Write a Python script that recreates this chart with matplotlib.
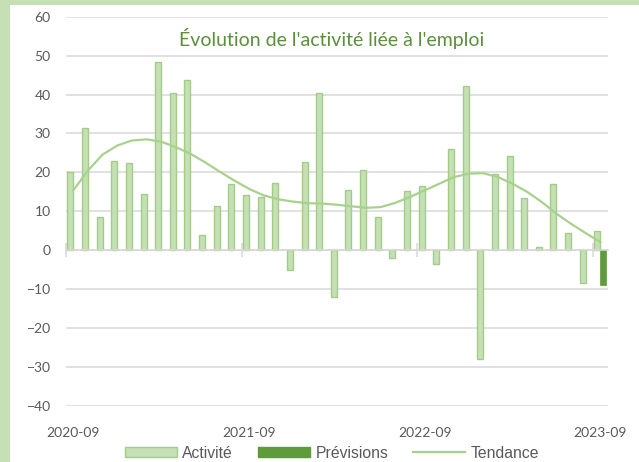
import matplotlib
matplotlib.use("Agg")
import matplotlib.pyplot as plt
import matplotlib.patches as mpatches
import numpy as np
import pandas as pd

# ---- data ----
months = pd.date_range("2020-09-01", "2023-09-01", freq="MS").strftime("%Y-%m").tolist()
activite = [20.0, 31.4, 8.5, 22.9, 22.5, 14.5, 48.3, 40.5, 43.8, 3.8,
            11.5, 16.9, 14.2, 13.6, 17.2, -5.1, 22.8, 40.3, -12.0, 15.4,
            20.6, 8.6, -2.0, 15.2, 16.4, -3.4, 25.9, 42.1, -27.9, 19.7,
            24.3, 13.4, 0.9, 17.1, 4.5, -8.4, 4.9]
previsions = [np.nan] * 36 + [-9.0]
tendance = [15.4, 20.5, 24.6, 26.9, 28.2, 28.5, 27.9, 26.5, 24.8, 22.6,
            20.2, 17.9, 15.8, 14.1, 13.1, 12.5, 12.1, 12.0, 11.7, 11.3,
            10.9, 11.1, 12.2, 13.7, 15.4, 17.1, 18.8, 19.7, 19.8, 18.8,
            17.1, 15.0, 12.4, 9.4, 6.8, 4.4, 2.1]
tick_labels = ["2020-09", "2021-09", "2022-09", "2023-09"]
title = "Évolution de l'activité liée à l'emploi"
series_names = ["Activité", "Prévisions", "Tendance"]

# ---- style ----
BG = "#c5e0b4"
BAR_FILL = "#c5e0b4"
BAR_EDGE = "#a3cc88"
PREV = "#5f9a3b"
TREND = "#a9d18e"
GRID = "#d9d9d9"
TXT = "#595959"
TITLE_C = "#5b8f3a"

fig = plt.figure(figsize=(6.39, 4.62), dpi=100, facecolor=BG)
fig.patches.append(mpatches.Rectangle((10 / 639, 0), 1 - 10 / 639, (462 - 5) / 462,
                                      transform=fig.transFigure, facecolor="white",
                                      edgecolor="none", zorder=-10))

ax = fig.add_axes([66 / 639, 1 - 406 / 462, (607.7 - 66) / 639, (406 - 16.7) / 462])
ax.patch.set_alpha(0)

x = np.arange(len(months))
w = 0.41
ax.bar(x - w / 2, activite, width=w, color=BAR_FILL, edgecolor=BAR_EDGE,
       linewidth=1.0, zorder=2, label=series_names[0])
ax.bar(x + w / 2, previsions, width=w, color=PREV, edgecolor=PREV,
       linewidth=0.5, zorder=2, label=series_names[1])
ax.plot(x, tendance, color=TREND, linewidth=1.6, zorder=3, label=series_names[2])

ax.set_xlim(-0.5, len(months) - 0.5)
ax.set_ylim(-40, 60)
ax.set_yticks(np.arange(-40, 61, 10))
ax.yaxis.grid(True, color=GRID, linewidth=1.1)
ax.set_axisbelow(True)
ax.tick_params(axis="y", length=0, pad=11, labelsize=10, labelcolor=TXT)
for lab in ax.get_yticklabels():
    lab.set_fontfamily("Lato")

for s in ["top", "right", "left"]:
    ax.spines[s].set_visible(False)
ax.spines["bottom"].set_position(("data", 0))
ax.spines["bottom"].set_color(GRID)
ax.spines["bottom"].set_linewidth(1.1)
label_idx = [months.index(t) for t in tick_labels]
ax.set_xticks([i - 0.5 for i in label_idx])
ax.set_xticklabels([])
ax.tick_params(axis="x", direction="inout", length=10, width=1.1, color=GRID)

sec = ax.secondary_xaxis(0.0)
sec.set_xticks(label_idx)
sec.set_xticklabels(tick_labels, fontfamily="Lato", fontsize=10, color=TXT)
sec.tick_params(length=0, pad=15)
sec.spines["bottom"].set_visible(False)

ax.text(0.49, 0.945, title, transform=ax.transAxes, ha="center", va="center",
        fontsize=14, color=TITLE_C, fontfamily="Lato")

handles = [mpatches.Patch(facecolor=BAR_FILL, edgecolor=BAR_EDGE, linewidth=1.0),
           mpatches.Patch(facecolor=PREV, edgecolor=PREV),
           plt.Line2D([], [], color=TREND, linewidth=1.6)]
fig.legend(handles, series_names, loc="center", bbox_to_anchor=(332 / 639, 1 - 453 / 462),
           ncol=3, frameon=False, prop={"family": "Liberation Sans", "size": 11.3},
           labelcolor=TXT, handlelength=3.3, handleheight=0.55, handletextpad=0.35,
           columnspacing=1.6, borderaxespad=0, borderpad=0)

fig.savefig("out.png", dpi=100, facecolor=BG)
